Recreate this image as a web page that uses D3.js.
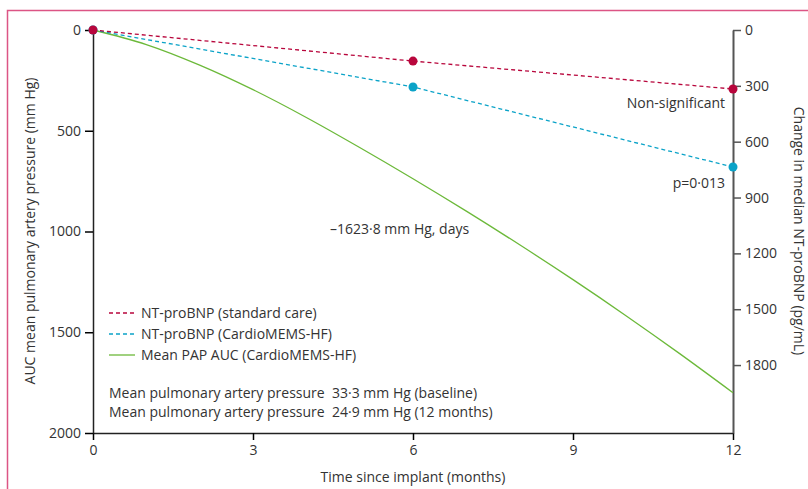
<!DOCTYPE html>
<html>
<head>
<meta charset="utf-8">
<script src="https://cdn.jsdelivr.net/npm/d3@7"></script>
<style>
  body { margin: 0; background: #fff; }
  svg { font-family: "Open Sans", sans-serif; }
  .axis text { font-size: 14px; fill: #333; font-family: "Open Sans", sans-serif; }
  .lbl { font-size: 14px; fill: #333; }
</style>
</head>
<body>
<div id="chart"></div>
<script>
// data
var months = [0, 6, 12];
var standardCare = [0, 167, 317];   // change in median NT-proBNP, pg/mL
var cardioMems = [0, 306, 736];
var papMonths = [0, 1, 2, 3, 4, 5, 6, 7, 8, 9, 10, 11, 12];
var papAUC = [0, 72, 174, 296, 434, 583, 738, 899, 1066, 1239, 1419, 1606, 1800];
var xTicks = [0, 3, 6, 9, 12];
var leftTicks = [0, 500, 1000, 1500, 2000];
var rightTicks = [0, 300, 600, 900, 1200, 1500, 1800];

var W = 808, H = 489;
var red = "#b8063c", blue = "#0ba3c8", green = "#6cb93a";

var svg = d3.select("#chart")
            .append("svg")
            .attr("width", W)
            .attr("height", H);

// pink frame
svg.append("rect")
   .attr("x", 7.5).attr("y", 10.5)
   .attr("width", W).attr("height", H)
   .attr("fill", "none")
   .attr("stroke", "#dc5585")
   .attr("stroke-width", 1.5);

var xScale = d3.scaleLinear().domain([0, 12]).range([93, 733]);
var yLeft = d3.scaleLinear().domain([0, 2000]).range([30, 433]);
var yRight = d3.scaleLinear().domain([0, 2165]).range([30, 433]);
var fmt = d3.format("d");

// axes
var gx = svg.append("g")
   .attr("class", "axis")
   .attr("transform", "translate(0,433)")
   .call(d3.axisBottom(xScale).tickValues(xTicks).tickFormat(fmt)
     .tickSizeInner(7).tickSizeOuter(0).tickPadding(5));
gx.select(".domain").attr("stroke", "#222").attr("stroke-width", 1.5);

var gl = svg.append("g")
   .attr("class", "axis")
   .attr("transform", "translate(93,0)")
   .call(d3.axisLeft(yLeft).tickValues(leftTicks).tickFormat(fmt)
     .tickSizeInner(8).tickSizeOuter(0).tickPadding(4));
gl.select(".domain").attr("stroke", "#222").attr("stroke-width", 1.5);

var gr = svg.append("g")
   .attr("class", "axis")
   .attr("transform", "translate(733,0)")
   .call(d3.axisRight(yRight).tickValues(rightTicks).tickFormat(fmt)
     .tickSizeInner(8).tickSizeOuter(0).tickPadding(4));
gr.select(".domain").attr("stroke", "#555").attr("stroke-width", 2);
gr.selectAll(".tick line").attr("stroke", "#555").attr("stroke-width", 1.5);
gx.selectAll(".tick line").attr("stroke-width", 1.5);
gl.selectAll(".tick line").attr("stroke-width", 1.5);

// green AUC curve
var pap = papMonths.map(function(m, i) { return [m, papAUC[i]]; });
svg.append("path")
   .datum(pap)
   .attr("fill", "none")
   .attr("stroke", green)
   .attr("stroke-width", 1.3)
   .attr("d", d3.line()
     .x(function(d) { return xScale(d[0]); })
     .y(function(d) { return yLeft(d[1]); })
     .curve(d3.curveMonotoneX));

// dashed NT-proBNP lines
function dashed(values, color) {
  var pts = months.map(function(m, i) { return [m, values[i]]; });
  svg.append("path")
     .datum(pts)
     .attr("fill", "none")
     .attr("stroke", color)
     .attr("stroke-width", 1.3)
     .attr("stroke-dasharray", "4,3")
     .attr("d", d3.line()
       .x(function(d) { return xScale(d[0]); })
       .y(function(d) { return yRight(d[1]); }));
  svg.selectAll(null)
     .data(pts)
     .enter()
     .append("circle")
     .attr("cx", function(d) { return xScale(d[0]); })
     .attr("cy", function(d) { return yRight(d[1]); })
     .attr("r", 4.5)
     .attr("fill", color);
}
dashed(cardioMems, blue);
dashed(standardCare, red);

// annotations
svg.append("text").attr("class", "lbl")
   .attr("x", 725).attr("y", 108)
   .attr("text-anchor", "end")
   .text("Non-significant");
svg.append("text").attr("class", "lbl")
   .attr("x", 725).attr("y", 188)
   .attr("text-anchor", "end")
   .text("p=0·013");
svg.append("text").attr("class", "lbl")
   .attr("x", 330).attr("y", 234)
   .text("–1623·8 mm Hg, days");

// legend
var legend = [
  {label: "NT-proBNP (standard care)", color: red, dash: "4,3"},
  {label: "NT-proBNP (CardioMEMS-HF)", color: blue, dash: "4,3"},
  {label: "Mean PAP AUC (CardioMEMS-HF)", color: green, dash: null}
];
var lg = svg.append("g").attr("transform", "translate(109,313)");
legend.forEach(function(d, i) {
  lg.append("line")
    .attr("x1", 0).attr("x2", 26)
    .attr("y1", i * 21).attr("y2", i * 21)
    .attr("stroke", d.color)
    .attr("stroke-width", 1.3)
    .attr("stroke-dasharray", d.dash);
  lg.append("text").attr("class", "lbl")
    .attr("x", 32).attr("y", i * 21)
    .attr("dy", "0.35em")
    .text(d.label);
});

var notes = [
  ["Mean pulmonary artery pressure", "33·3 mm Hg (baseline)"],
  ["Mean pulmonary artery pressure", "24·9 mm Hg (12 months)"]
];
notes.forEach(function(n, i) {
  svg.append("text").attr("class", "lbl")
     .attr("x", 109).attr("y", 393 + i * 19).attr("dy", "0.35em")
     .text(n[0]);
  svg.append("text").attr("class", "lbl")
     .attr("x", 332).attr("y", 393 + i * 19).attr("dy", "0.35em")
     .text(n[1]);
});

// axis titles
svg.append("text").attr("class", "lbl")
   .attr("transform", "translate(30,231) rotate(-90)")
   .attr("text-anchor", "middle")
   .attr("dy", "0.35em")
   .text("AUC mean pulmonary artery pressure (mm Hg)");
svg.append("text").attr("class", "lbl")
   .attr("transform", "translate(799,231) rotate(90)")
   .attr("text-anchor", "middle")
   .attr("dy", "0.35em")
   .text("Change in median NT-proBNP (pg/mL)");
svg.append("text").attr("class", "lbl")
   .attr("x", 413).attr("y", 477)
   .attr("text-anchor", "middle")
   .attr("dy", "0.35em")
   .text("Time since implant (months)");
</script>
</body>
</html>
